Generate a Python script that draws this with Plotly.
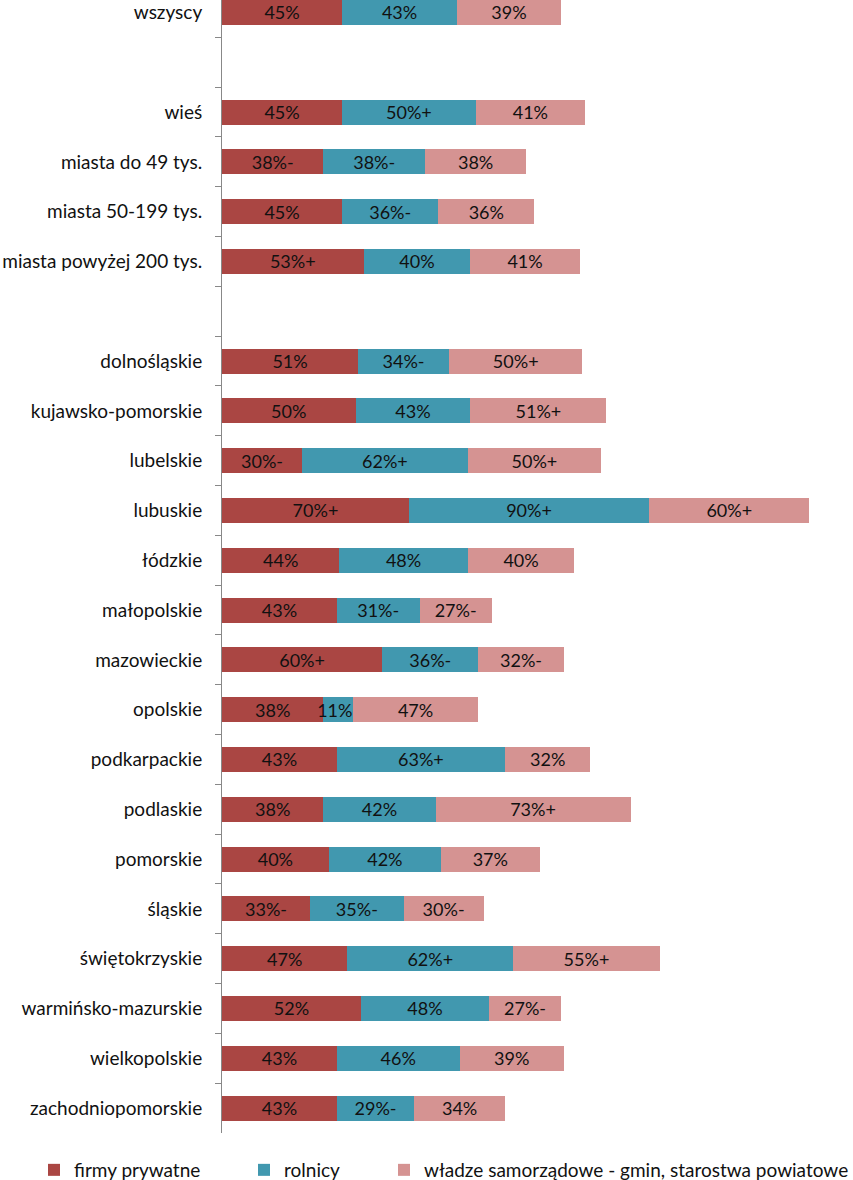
import plotly.graph_objects as go

categories = ["wszyscy", " ", "wieś", "miasta do 49 tys.", "miasta 50-199 tys.",
              "miasta powyżej 200 tys.", "  ", "dolnośląskie", "kujawsko-pomorskie",
              "lubelskie", "lubuskie", "łódzkie", "małopolskie", "mazowieckie",
              "opolskie", "podkarpackie", "podlaskie", "pomorskie", "śląskie",
              "świętokrzyskie", "warmińsko-mazurskie", "wielkopolskie",
              "zachodniopomorskie"]

firmy = [45, None, 45, 38, 45, 53, None, 51, 50, 30, 70, 44, 43, 60, 38, 43, 38, 40, 33, 47, 52, 43, 43]
firmy_sig = ["", "", "", "-", "", "+", "", "", "", "-", "+", "", "", "+", "", "", "", "", "-", "", "", "", ""]

rolnicy = [43, None, 50, 38, 36, 40, None, 34, 43, 62, 90, 48, 31, 36, 11, 63, 42, 42, 35, 62, 48, 46, 29]
rolnicy_sig = ["", "", "+", "-", "-", "", "", "-", "", "+", "+", "", "-", "-", "-", "+", "", "", "-", "+", "", "", "-"]

wladze = [39, None, 41, 38, 36, 41, None, 50, 51, 50, 60, 40, 27, 32, 47, 32, 73, 37, 30, 55, 27, 39, 34]
wladze_sig = ["", "", "", "", "", "", "", "+", "+", "+", "+", "", "-", "-", "", "", "+", "", "-", "+", "-", "", ""]

series = [
    ("firmy prywatne", firmy, firmy_sig, "#AA4643"),
    ("rolnicy", rolnicy, rolnicy_sig, "#4198AF"),
    ("władze samorządowe - gmin, starostwa powiatowe", wladze, wladze_sig, "#D59392"),
]

FONT = "Lato, Open Sans, sans-serif"
FS = 19
FS_BAR = 18
W, H = 853, 1180
ML, MB = 222, 47
plot_w = W - ML
legend_x_px = [34, 244, 384]

fig = go.Figure()
for i, (name, vals, sig, col) in enumerate(series):
    texts = [("" if v is None else f"{v}%{s}") for v, s in zip(vals, sig)]
    fig.add_trace(go.Bar(
        y=categories, x=vals, name=name, orientation="h",
        marker=dict(color=col, line=dict(width=0)),
        text=texts, textposition="inside", insidetextanchor="middle",
        textfont=dict(color="#111111", size=FS_BAR, family=FONT),
        hoverinfo="skip", cliponaxis=False,
        legend="legend" if i == 0 else f"legend{i+1}",
    ))

legend_common = dict(orientation="h", yanchor="middle", xanchor="left",
                     font=dict(size=FS, family=FONT, color="#111111"),
                     bgcolor="rgba(0,0,0,0)", itemwidth=30)
y_leg = -(1170 - (H - MB)) / (H - MB)
layout_legends = {}
for i, px in enumerate(legend_x_px):
    key = "legend" if i == 0 else f"legend{i+1}"
    layout_legends[key] = dict(legend_common, x=(px - ML) / plot_w, y=y_leg)

fig.update_layout(
    width=W, height=H,
    barmode="stack", bargap=0.5,
    margin=dict(l=ML, r=0, t=0, b=MB, pad=0, autoexpand=False),
    paper_bgcolor="white", plot_bgcolor="white",
    showlegend=True,
    uniformtext=dict(minsize=FS_BAR, mode="show"),
    xaxis=dict(visible=False, range=[0, plot_w / 2.67], fixedrange=True, automargin=False),
    yaxis=dict(
        type="category", categoryorder="array", categoryarray=categories,
        range=[22.5, -0.25], automargin=False,
        showline=True, linecolor="#888888", linewidth=1,
        ticks="outside", ticklen=6, tickcolor="#888888", tickson="boundaries",
        tickfont=dict(size=FS, family=FONT, color="#111111"),
        ticklabelstandoff=15, showgrid=False, zeroline=False,
    ),
    **layout_legends,
)

fig.write_html("out.html", config={"displayModeBar": False},
               post_script="document.body.style.margin='0';document.body.style.padding='0';")
